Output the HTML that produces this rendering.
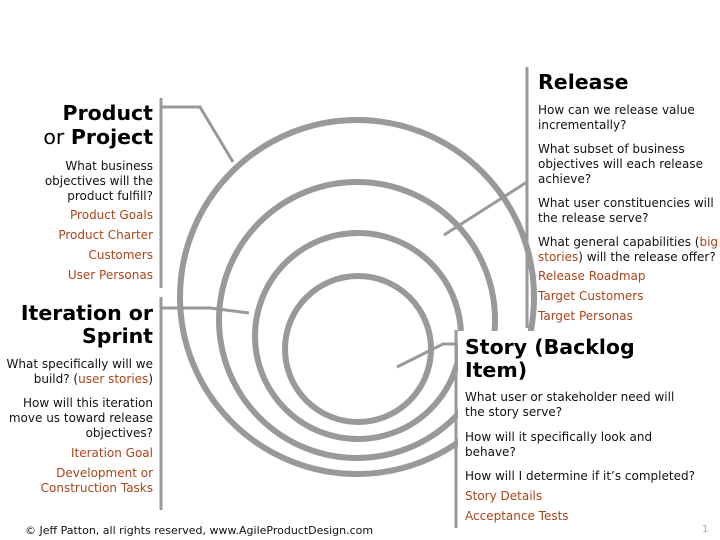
<!DOCTYPE html>
<html><head><meta charset="utf-8"><style>
html,body{margin:0;padding:0;background:#fff;}
svg{display:block;font-family:"DejaVu Sans","Liberation Sans",sans-serif;}
.h{font-weight:bold;font-size:20.5px;fill:#000}
.t{font-size:12px;fill:#111}
.l{font-size:12px;fill:#a8451a}
.r{text-anchor:end}
</style></head><body>
<svg width="720" height="540" viewBox="0 0 720 540">
<g fill="none" stroke="#999" stroke-width="6">
<circle cx="357" cy="297" r="177"/>
<circle cx="357" cy="320" r="138"/>
<circle cx="358" cy="336" r="103"/>
<circle cx="358" cy="349" r="73"/>
</g>
<rect x="458" y="331" width="262" height="209" fill="#fff"/>
<g fill="none" stroke="#999" stroke-width="3">
<line x1="161" y1="98" x2="161" y2="288"/>
<polyline points="161,107 200,107 233,162"/>
<line x1="161" y1="297" x2="161" y2="510"/>
<polyline points="161,308 210,308 249,313"/>
<line x1="527" y1="67" x2="527" y2="328"/>
<line x1="444" y1="235" x2="527" y2="182"/>
<line x1="456" y1="330" x2="456" y2="528"/>
<polyline points="397,367 443,344 456,344"/>
</g>
<text class="h r" x="153" y="120">Product</text>
<text class="h r" x="153" y="144"><tspan font-weight="normal">or </tspan>Project</text>
<text class="t r" x="153" y="170">What business</text>
<text class="t r" x="153" y="185">objectives will the</text>
<text class="t r" x="153" y="200">product fulfill?</text>
<text class="l r" x="153" y="219">Product Goals</text>
<text class="l r" x="153" y="239">Product Charter</text>
<text class="l r" x="153" y="259">Customers</text>
<text class="l r" x="153" y="279">User Personas</text>

<text class="h r" x="153" y="320">Iteration or</text>
<text class="h r" x="153" y="343">Sprint</text>
<text class="t r" x="153" y="368">What specifically will we</text>
<text class="t r" x="153" y="383">build? (<tspan fill="#a8451a">user stories</tspan>)</text>
<text class="t r" x="153" y="407">How will this iteration</text>
<text class="t r" x="153" y="422">move us toward release</text>
<text class="t r" x="153" y="437">objectives?</text>
<text class="l r" x="153" y="457">Iteration Goal</text>
<text class="l r" x="153" y="477">Development or</text>
<text class="l r" x="153" y="492">Construction Tasks</text>

<text class="h" x="538" y="89">Release</text>
<text class="t" x="538" y="114">How can we release value</text>
<text class="t" x="538" y="129">incrementally?</text>
<text class="t" x="538" y="153">What subset of business</text>
<text class="t" x="538" y="168">objectives will each release</text>
<text class="t" x="538" y="183">achieve?</text>
<text class="t" x="538" y="207">What user constituencies will</text>
<text class="t" x="538" y="222">the release serve?</text>
<text class="t" x="538" y="246">What general capabilities (<tspan fill="#a8451a">big</tspan></text>
<text class="t" x="538" y="261"><tspan fill="#a8451a">stories</tspan>) will the release offer?</text>
<text class="l" x="538" y="280">Release Roadmap</text>
<text class="l" x="538" y="300">Target Customers</text>
<text class="l" x="538" y="320">Target Personas</text>

<text class="h" x="465" y="354">Story (Backlog</text>
<text class="h" x="465" y="377">Item)</text>
<text class="t" x="465" y="401">What user or stakeholder need will</text>
<text class="t" x="465" y="416">the story serve?</text>
<text class="t" x="465" y="441">How will it specifically look and</text>
<text class="t" x="465" y="456">behave?</text>
<text class="t" x="465" y="480">How will I determine if it’s completed?</text>
<text class="l" x="465" y="500">Story Details</text>
<text class="l" x="465" y="520">Acceptance Tests</text>

<text x="25" y="534" style="font-size:11px;fill:#111">© Jeff Patton, all rights reserved, www.AgileProductDesign.com</text>
<text x="702" y="532" style="font-size:10px;fill:#aaa">1</text>
</svg>
</body></html>
